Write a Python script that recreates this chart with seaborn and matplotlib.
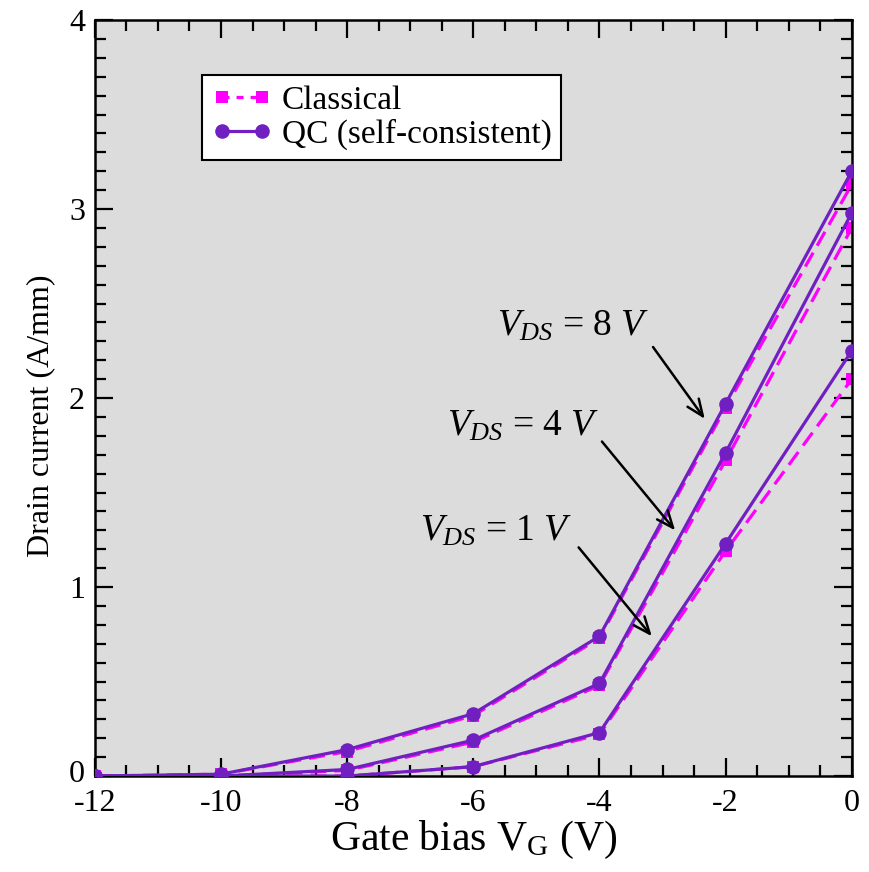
import matplotlib
matplotlib.use("Agg")
import matplotlib.pyplot as plt
from matplotlib.ticker import MultipleLocator
from matplotlib.lines import Line2D
from matplotlib.transforms import ScaledTranslation
import seaborn as sns
import pandas as pd

# Gate bias sweep (V)
gate_bias = [-12, -10, -8, -6, -4, -2, 0]

# Drain current (A/mm) for each drain bias
qc_vds8 = [0.0, 0.01, 0.14, 0.33, 0.74, 1.97, 3.20]
cl_vds8 = [0.0, 0.01, 0.13, 0.32, 0.73, 1.95, 3.13]
qc_vds4 = [0.0, 0.0, 0.035, 0.19, 0.49, 1.71, 2.98]
cl_vds4 = [0.0, 0.0, 0.03, 0.18, 0.48, 1.67, 2.90]
qc_vds1 = [0.0, 0.0, 0.0, 0.05, 0.23, 1.23, 2.25]
cl_vds1 = [0.0, 0.0, 0.0, 0.05, 0.22, 1.19, 2.10]

series_labels = ["Classical", "QC (self-consistent)"]
x_ticks = [-12, -10, -8, -6, -4, -2, 0]
y_ticks = [0, 1, 2, 3, 4]

sns.set_theme(style="ticks")
plt.rcParams["font.family"] = ["Liberation Serif", "DejaVu Serif"]
plt.rcParams["mathtext.fontset"] = "custom"
plt.rcParams["mathtext.rm"] = "Liberation Serif"
plt.rcParams["mathtext.it"] = "Liberation Serif:italic"
plt.rcParams["text.color"] = "black"
plt.rcParams["axes.labelcolor"] = "black"
plt.rcParams["xtick.color"] = "black"
plt.rcParams["ytick.color"] = "black"

MAGENTA = "#FF00FF"
PURPLE = "#7020C0"

fig, ax = plt.subplots(figsize=(8.7, 8.72), dpi=100)
fig.subplots_adjust(left=0.109, right=0.979, bottom=0.110, top=0.977)
ax.set_facecolor("#DCDCDC")

classical = [cl_vds8, cl_vds4, cl_vds1]
quantum = [qc_vds8, qc_vds4, qc_vds1]

for ys in classical:
    df = pd.DataFrame({"vg": gate_bias, "id": ys})
    sns.lineplot(data=df, x="vg", y="id", ax=ax, color=MAGENTA,
                 linewidth=2.3, marker="s", markersize=8.5,
                 markeredgewidth=0, dashes=False, zorder=2,
                 linestyle=(0, (5, 2.5)), legend=False)

for ys in quantum:
    df = pd.DataFrame({"vg": gate_bias, "id": ys})
    sns.lineplot(data=df, x="vg", y="id", ax=ax, color=PURPLE,
                 linewidth=2.3, marker="o", markersize=10.5,
                 markeredgewidth=0, zorder=3, legend=False)

ax.set_xlim(-12, 0)
ax.set_ylim(0, 4)
ax.set_xticks(x_ticks)
ax.set_xticklabels([str(v) for v in x_ticks])
ax.set_yticks(y_ticks)
ax.set_yticklabels([str(v) for v in y_ticks])
ax.xaxis.set_minor_locator(MultipleLocator(0.5))
ax.yaxis.set_minor_locator(MultipleLocator(0.1))
ax.tick_params(which="both", direction="in", top=True, right=True,
               color="black", width=1.6)
ax.tick_params(which="major", length=13, labelsize=23)
ax.tick_params(axis="x", which="major", pad=9)
ax.tick_params(axis="y", which="major", pad=7)
ax.tick_params(which="minor", length=8)
for sp in ax.spines.values():
    sp.set_color("black")
    sp.set_linewidth(1.8)

# lift the "0" on the y axis clear of the "-12" below it
zero_lbl = ax.get_yticklabels()[0]
zero_lbl.set_transform(zero_lbl.get_transform()
                       + ScaledTranslation(0, 4 / 72, fig.dpi_scale_trans))

ax.set_xlabel(r"Gate bias V$_\mathrm{G}$ (V)", fontsize=30, labelpad=1)
ax.set_ylabel("Drain current (A/mm)", fontsize=23)
ax.yaxis.set_label_coords(-0.052, 0.477)

# Drain-bias annotations: label, arrow tail, arrow head, label anchor
notes = [
    (r"$V_{DS}$ = $\mathit{8\ V}$", (-3.15, 2.27), (-2.33, 1.89), (-5.63, 2.33)),
    (r"$V_{DS}$ = $\mathit{4\ V}$", (-3.96, 1.77), (-2.80, 1.30), (-6.42, 1.80)),
    (r"$V_{DS}$ = $\mathit{1\ V}$", (-4.33, 1.21), (-3.17, 0.74), (-6.85, 1.245)),
]
for text, start, end, txt_pos in notes:
    ax.annotate("", xy=end, xytext=start,
                arrowprops=dict(arrowstyle="->,head_length=0.6,head_width=0.25",
                                color="black", lw=1.8,
                                mutation_scale=20, shrinkA=0, shrinkB=0))
    ax.text(txt_pos[0], txt_pos[1], text, fontsize=27, ha="left",
            va="baseline")

handles = [
    Line2D([], [], color=MAGENTA, linewidth=2.3, linestyle=(0, (2.2, 2.2)),
           marker="s", markersize=8.5, markeredgewidth=0),
    Line2D([], [], color=PURPLE, linewidth=2.3, marker="o", markersize=10.5,
           markeredgewidth=0),
]
leg = ax.legend(handles, series_labels, loc="upper left",
                bbox_to_anchor=(0.141, 0.927), fontsize=24, frameon=True,
                fancybox=False, framealpha=1, edgecolor="black",
                numpoints=2, handlelength=1.8, handletextpad=0.3,
                labelspacing=0.1, borderpad=0.3, borderaxespad=0)
leg.get_frame().set_linewidth(1.5)
leg.get_frame().set_facecolor("white")

fig.savefig("out.png", dpi=100, facecolor="white")
